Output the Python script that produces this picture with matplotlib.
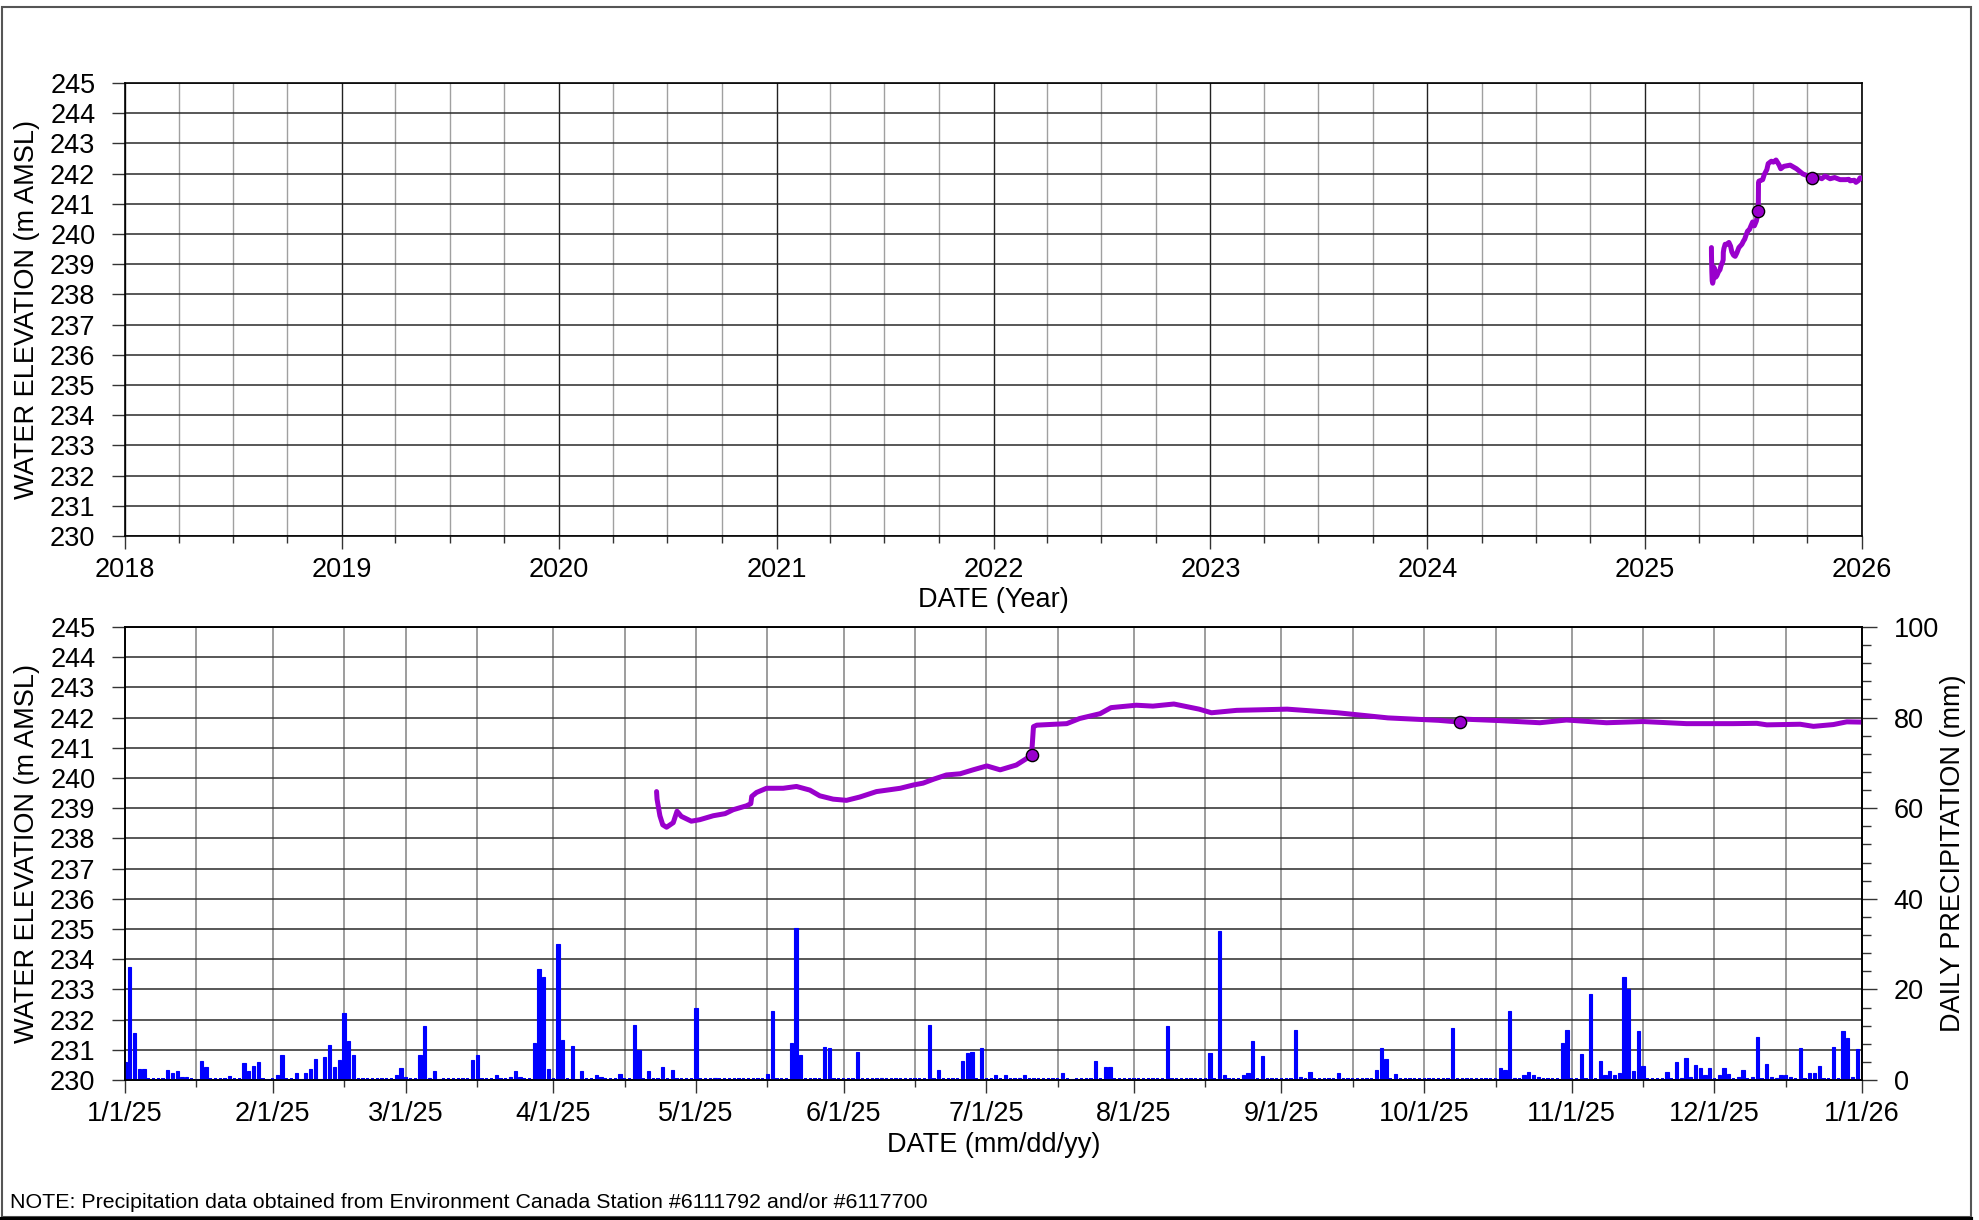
import numpy as np
import pandas as pd
import matplotlib
matplotlib.use("Agg")
import matplotlib.pyplot as plt
import matplotlib.dates as mdates
from matplotlib.ticker import MultipleLocator, FuncFormatter
from matplotlib.patches import Rectangle
from matplotlib.lines import Line2D

plt.rcParams['font.family'] = ['Liberation Sans', 'DejaVu Sans']

# ========== Data (days counted from 1/1/25) ==========
elev_day = [111.7, 111.8, 112.4, 113.0, 113.8, 115.2, 116.0, 116.9, 119.0, 120.8,
            123.6, 126.1, 127.8, 130.6, 131.5, 131.7, 132.7, 134.8, 138.3, 141.1,
            143.9, 146.0, 148.8, 151.6, 154.4, 157.9, 162.9, 165.7, 167.7, 169.9,
            172.6, 175.5, 178.2, 181.1, 183.9, 187.3, 189.5, 190.5, 190.9, 191.6,
            197.9, 200.6, 204.9, 207.2, 212.5, 216.0, 220.4, 225.7, 228.3, 233.6,
            244.2, 254.8, 265.4, 276.0, 280.5, 281.3, 288.9, 297.3, 302.9, 311.3,
            319.0, 328.1, 337.9, 342.9, 345.0, 352.0, 354.8, 359.0, 361.8, 365.0]
elev_m = [239.55, 239.30, 238.75, 238.45, 238.37, 238.52, 238.90, 238.73, 238.57, 238.62,
          238.75, 238.82, 238.95, 239.08, 239.15, 239.39, 239.52, 239.66, 239.66, 239.72,
          239.60, 239.41, 239.30, 239.26, 239.37, 239.55, 239.66, 239.77, 239.83, 239.96,
          240.10, 240.14, 240.27, 240.40, 240.27, 240.43, 240.65, 240.76, 241.70, 241.75,
          241.80, 241.97, 242.13, 242.33, 242.41, 242.38, 242.45, 242.28, 242.16, 242.24,
          242.28, 242.16, 241.99, 241.91, 241.85, 241.95, 241.90, 241.83, 241.92, 241.83,
          241.87, 241.80, 241.80, 241.81, 241.76, 241.78, 241.71, 241.77, 241.86, 241.85]

# manual measurements
meas_day = [190.5, 280.5]
meas_m = [240.76, 241.85]

# daily precipitation (days not listed are 0 mm)
rain_day = [0, 1, 2, 3, 4, 9, 10, 11, 12, 13, 15, 16, 17, 22, 25, 26, 27, 28, 30, 32,
            33, 36, 37, 38, 39, 40, 41, 42, 43, 44, 45, 46, 47, 48, 57, 58, 59, 62, 63, 64,
            65, 66, 73, 74, 78, 81, 82, 83, 86, 87, 88, 89, 91, 92, 94, 95, 96, 99, 100, 104,
            107, 108, 110, 113, 115, 120, 124, 135, 136, 140, 141, 142, 147, 148, 154, 159,
            169, 171, 176, 177, 178, 180, 183, 185, 188, 189, 197, 199, 204, 206, 207, 219,
            228, 230, 231, 235, 236, 237, 239, 246, 247, 249, 255, 263, 264, 265, 267, 279,
            289, 290, 291, 292, 294, 295, 296, 297, 302, 303, 306, 308, 310, 311, 312, 313,
            314, 315, 316, 317, 318, 319, 324, 326, 327, 328, 329, 330, 331, 332, 333, 335,
            336, 337, 339, 340, 342, 343, 345, 346, 347, 348, 349, 350, 352, 354, 355, 356,
            359, 361, 362, 363, 364]
rain_mm = [3.9, 25.0, 10.4, 2.4, 2.4, 2.2, 1.5, 2.0, 0.7, 0.7, 0.3, 4.1, 2.9, 0.9, 3.8, 2.0, 3.2, 3.9, 0.3, 1.1,
           5.5, 1.6, 0.3, 1.5, 2.4, 4.6, 0.3, 5.1, 7.7, 2.9, 4.5, 14.7, 8.7, 5.5, 1.0, 2.7, 0.6, 5.5, 11.9, 0.5,
           1.9, 0.3, 4.4, 5.6, 1.0, 0.7, 2.0, 0.7, 8.1, 24.4, 22.8, 2.4, 30.1, 8.8, 7.6, 0.3, 2.0, 1.0, 0.6, 1.3,
           12.1, 6.6, 2.0, 2.9, 2.3, 15.8, 0.4, 1.3, 15.3, 8.2, 33.5, 5.5, 7.2, 7.0, 6.1, 0.4,
           12.2, 2.1, 4.3, 6.0, 6.2, 7.0, 1.1, 1.0, 0.4, 1.2, 1.5, 0.3, 4.1, 2.9, 2.9, 11.9,
           6.0, 32.8, 1.2, 1.2, 1.6, 8.6, 5.2, 11.0, 0.6, 1.8, 1.5, 2.1, 7.0, 4.6, 1.4, 11.4,
           2.6, 2.1, 15.2, 0.4, 1.0, 1.7, 1.1, 0.7, 8.1, 11.1, 5.7, 19.0, 4.1, 1.0, 2.0, 1.0,
           1.5, 22.8, 20.1, 2.0, 10.8, 3.2, 1.8, 4.0, 0.5, 4.8, 0.7, 3.4, 2.6, 1.0, 2.6, 1.1,
           2.6, 1.3, 0.6, 2.1, 0.7, 9.6, 3.5, 0.7, 0.5, 1.0, 1.0, 0.7, 7.0, 1.5, 1.5, 3.0,
           7.3, 10.8, 9.2, 0.7, 6.8]

note = "NOTE: Precipitation data obtained from Environment Canada Station #6111792 and/or #6117700"

start = pd.Timestamp("2025-01-01")
elev_dates = start + pd.to_timedelta(elev_day, unit="D")
meas_dates = start + pd.to_timedelta(meas_day, unit="D")
precip = np.zeros(365)
precip[rain_day] = rain_mm
precip_dates = start + pd.to_timedelta(np.arange(365), unit="D")

LINE = "#9900CC"
FS = 19.5

# ========== Figure ==========
W, H = 1979, 1220
fig = plt.figure(figsize=(W / 100, H / 100), dpi=100)
ax1 = fig.add_axes([125 / W, 1 - 536 / H, 1737 / W, 453 / H])
ax2 = fig.add_axes([125 / W, 1 - 1080 / H, 1737 / W, 453 / H])
ax3 = ax2.twinx()


def style_left(ax):
    ax.set_ylim(230, 245)
    ax.set_yticks(range(230, 246))
    ax.tick_params(axis="y", which="major", direction="out", length=9.4, width=1,
                   color="#333", labelsize=FS, pad=12)
    ax.tick_params(axis="x", which="major", direction="out", length=9.4, width=1,
                   color="#333", labelsize=FS, pad=6)
    ax.tick_params(axis="x", which="minor", direction="out", length=5, width=1, color="#333")
    ax.grid(True, which="major", axis="y", color="#2a2a2a", lw=1.1)
    ax.set_axisbelow(True)
    for s in ax.spines.values():
        s.set_color("black")
        s.set_linewidth(1.2)
    ax.set_ylabel("WATER ELEVATION (m AMSL)", fontsize=FS, va="center")
    ax.yaxis.set_label_coords(-0.0565, 0.5)


# ---- top: long term ----
style_left(ax1)
ax1.set_xlim(pd.Timestamp("2018-01-01"), pd.Timestamp("2026-01-01"))
ax1.xaxis.set_major_locator(mdates.YearLocator())
ax1.xaxis.set_major_formatter(mdates.DateFormatter("%Y"))
ax1.xaxis.set_minor_locator(mdates.MonthLocator(bymonth=[4, 7, 10]))
ax1.grid(True, which="major", axis="x", color="#222", lw=1.0)
ax1.grid(True, which="minor", axis="x", color="#a0a0a0", lw=1.0)
ax1.plot(elev_dates, elev_m, color=LINE, lw=3.6, solid_capstyle="round", zorder=4)
ax1.plot(meas_dates, meas_m, "o", ms=8.8, mfc=LINE, mec="black", mew=1.0, zorder=5)
ax1.set_xlabel("DATE (Year)", fontsize=FS, va="center")
ax1.xaxis.set_label_coords(0.5, -0.1413)

# ---- bottom: current year ----
style_left(ax2)
ax2.set_xlim(pd.Timestamp("2025-01-01"), pd.Timestamp("2026-01-01"))
ax2.xaxis.set_major_locator(mdates.MonthLocator())
ax2.xaxis.set_minor_locator(mdates.MonthLocator(bymonthday=16))


def mdy(x, pos):
    d = mdates.num2date(x)
    return f"{d.month}/{d.day}/{d:%y}"


ax2.xaxis.set_major_formatter(FuncFormatter(mdy))
ax2.grid(True, which="both", axis="x", color="#8c8c8c", lw=1.2)
ax2.plot(elev_dates, elev_m, color=LINE, lw=3.6, solid_capstyle="round", zorder=4)
ax2.plot(meas_dates, meas_m, "o", ms=8.8, mfc=LINE, mec="black", mew=1.0, zorder=5)
ax2.set_xlabel("DATE (mm/dd/yy)", fontsize=FS, va="center")
ax2.xaxis.set_label_coords(0.5, -0.1435)

# precipitation bars, dry days shown as small baseline stubs
ax3.bar(precip_dates, precip, width=0.68, color="#0000FF", edgecolor="#0000FF", linewidth=0.8)
stub = np.where(precip == 0, 0.35, 0)
ax3.bar(precip_dates, stub, width=0.68, color="#0000FF", linewidth=0)
ax3.set_ylim(0, 100)
ax3.set_yticks(range(0, 101, 20))
ax3.yaxis.set_minor_locator(MultipleLocator(4))
ax3.tick_params(axis="y", which="major", direction="out", length=10.8, width=1,
                color="#333", labelsize=FS, pad=12)
ax3.tick_params(axis="y", which="minor", direction="out", length=6.5, width=1, color="#333")
ax3.set_ylabel("DAILY PRECIPITATION (mm)", fontsize=FS, rotation=90, va="center")
ax3.yaxis.set_label_coords(1.0524, 0.5)
for s in ax3.spines.values():
    s.set_color("black")
    s.set_linewidth(1.2)

# ---- frame and note ----
fig.patches.append(Rectangle((2 / W, 3 / H), 1969 / W, 1210 / H, transform=fig.transFigure,
                             fill=False, edgecolor="#555555", lw=1.5))
fig.lines.append(Line2D([0, 1971 / W], [1.5 / H, 1.5 / H], transform=fig.transFigure,
                        color="black", lw=3))
fig.text(10 / W, 1 - 1203 / H, note, fontsize=15.4, va="center", ha="left")

fig.savefig("out.png", dpi=100)
